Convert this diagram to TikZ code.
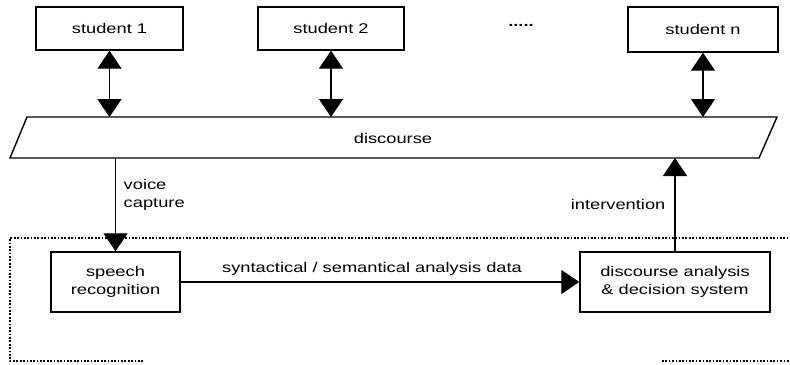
\documentclass[tikz,border=0pt]{standalone}
\usepackage{fontspec}
\setmainfont{Liberation Sans}[FakeStretch=1.3]
\usetikzlibrary{arrows.meta}

\tikzset{
  box/.style={draw, line width=1pt, align=center, inner sep=0pt},
  link/.style={line width=1pt},
  zone/.style={line width=1.3pt, dash pattern=on 1.2pt off 1.2pt},
}

\begin{document}
\begin{tikzpicture}[x=0.025cm, y=-0.025cm, >={Triangle[width=0.6cm,length=0.45cm]}, font=\fontsize{10}{12.8}\selectfont]
    \useasboundingbox (0,0) rectangle (790,364);
    % top: the students
    \node[box, minimum width=3.675cm, minimum height=1.075cm] (s1) at (109.5,28.5) {student 1};
    \node[box, minimum width=3.65cm, minimum height=1.075cm] (s2) at (331,28.5) {student 2};
    \node (dots) at (521,25) {\textbf{.....}};
    \node[box, minimum width=3.75cm, minimum height=1.125cm] (sn) at (703,29.5) {student n};
    % middle: discourse channel
    \coordinate (dtop) at (0,117);
    \coordinate (dbot) at (0,158);
    \draw[link] (27,117) -- (777,117) -- (759,158) -- (10,158) -- cycle;
    \node (disc) at (393,138) {discourse};
    \draw[<->, link] (s1.south) -- (s1.south |- dtop);
    \draw[<->, link] (s2.south) -- (s2.south |- dtop);
    \draw[<->, link] (sn.south) -- (sn.south |- dtop);
    % bottom: the system
    \draw[zone] (143,361) -- (10,361) -- (10,238) -- (790,238);
    \draw[zone] (662,361) -- (790,361);
    \node[box, minimum width=3.225cm, minimum height=1.5cm] (sr) at (115.5,282) {speech\\recognition};
    \node[box, minimum width=4.75cm, minimum height=1.5cm] (da) at (675,282) {discourse analysis\\\& decision system};
    \draw[->, link] (sr.north |- dbot) -- (sr.north) node[pos=0.4, right=2pt, align=left] (vc) {voice\\capture};
    \draw[->, link] (sr.east) -- (da.west) node[pos=0.48, above=1pt] (sa) {syntactical / semantical analysis data};
    \draw[->, link] (da.north) -- (da.north |- dbot) node[pos=0.5, left=3pt] (iv) {intervention};
\end{tikzpicture}
\end{document}
